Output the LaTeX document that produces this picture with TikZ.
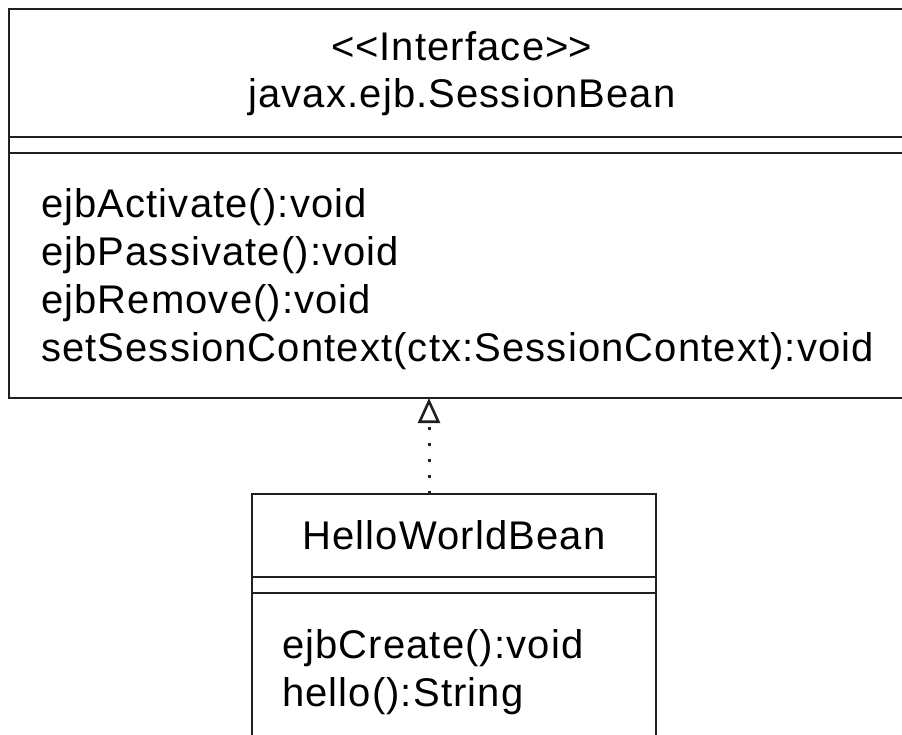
\documentclass[tikz,border=0pt]{standalone}
\usepackage{fontspec}
\setmainfont{Liberation Sans}[LetterSpace=2.8]
\usetikzlibrary{arrows.meta}

\definecolor{umlline}{HTML}{231F20}

\tikzset{
  umlbox/.style={draw=umlline, line width=2pt, fill=none, inner sep=0pt, outer sep=0pt, anchor=north west},
  divider/.style={draw=umlline, line width=2pt},
  umltext/.style={inner sep=0pt, outer sep=0pt, font=\fontsize{40}{48}\selectfont, text=black},
  classname/.style={umltext, anchor=base},
  member/.style={umltext, anchor=base west},
  realization/.style={draw=umlline, line width=3pt, dash pattern=on 3pt off 13pt,
    -{Triangle[open, length=25pt, width=22pt, line width=2.6pt, fill=white]}}
}

\begin{document}
\begin{tikzpicture}[x=1pt, y=-1pt]
  \useasboundingbox (0,0) rectangle (902,734);

  % interface javax.ejb.SessionBean
  \node[umlbox, minimum width=906pt, minimum height=389pt] (iface) at (9,9) {};
  \draw[divider] (9,137) -- (915,137);
  \draw[divider] (9,153) -- (915,153);
  \node[classname] (stereo) at (462,60) {<\kern0pt<Interface>\kern0pt>};
  \node[classname] (ifname) at (462,107) {javax.ejb.SessionBean};
  \node[member] (op1) at (41,217.5) {ejbActivate():void};
  \node[member] (op2) at (41,265) {ejbPassivate():void};
  \node[member] (op3) at (41,313) {ejbRemove():void};
  \node[member] (op4) at (41,361) {setSessionContext(ctx:SessionContext):void};

  % class HelloWorldBean
  \node[umlbox, minimum width=404pt, minimum height=270pt] (bean) at (252,494) {};
  \draw[divider] (252,577) -- (656,577);
  \draw[divider] (252,593) -- (656,593);
  \node[classname] (beanname) at (454,549) {HelloWorldBean};
  \node[member] (bop1) at (282,658) {ejbCreate():void};
  \node[member] (bop2) at (282,706) {hello():String};

  % realization: HelloWorldBean implements SessionBean
  \coordinate (realsrc) at (429,494);
  \coordinate (realdst) at (429,398);
  \draw[realization] (realsrc) -- (realdst);
\end{tikzpicture}
\end{document}
